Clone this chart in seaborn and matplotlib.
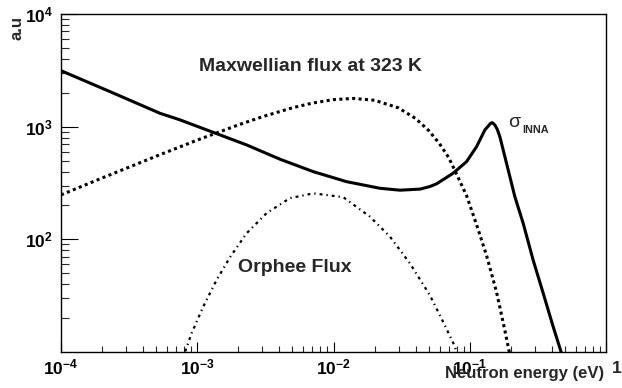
import numpy as np
import pandas as pd
import seaborn as sns
import matplotlib
matplotlib.use("Agg")
import matplotlib.pyplot as plt
from matplotlib.ticker import FixedLocator, FixedFormatter, NullFormatter

# ---------------- data ----------------
energy_sigma = [1.0e-4, 2.29e-4, 5.32e-4, 7.46e-4, 1.31e-3, 2.30e-3, 4.05e-3, 7.10e-3,
                0.01247, 0.02188, 0.0307, 0.0431, 0.0509, 0.0571, 0.0755, 0.0947,
                0.1122, 0.1291, 0.1365, 0.1422, 0.1465, 0.1529, 0.1590, 0.1663,
                0.1862, 0.2143, 0.2466, 0.2918, 0.3458, 0.4093, 0.4637, 0.5200]
sigma_inna = [3140, 2046, 1315, 1150, 890, 689, 514, 399,
              325, 284, 273, 279, 294, 311, 386, 489,
              664, 935, 1010, 1072, 1085, 1035, 950, 815,
              473, 239, 139, 65.6, 33.3, 16.8, 10.4, 6.5]

energy_maxw = [1e-4, 2e-4, 5e-4, 1e-3, 2e-3, 3e-3, 5e-3, 7e-3, 0.010, 0.014,
               0.020, 0.030, 0.040, 0.050, 0.060, 0.070, 0.0784, 0.0947, 0.1122,
               0.1328, 0.1573, 0.1807, 0.1950, 0.2050]
flux_maxw = [248, 350, 547, 760, 1036, 1224, 1471, 1620, 1738, 1781,
             1716, 1467, 1183, 924, 706, 533, 400, 245, 135,
             72, 34, 15.7, 10.0, 8.0]

energy_orphee = [7.6e-4, 8.13e-4, 9.1e-4, 1.107e-3, 1.387e-3, 1.738e-3, 2.30e-3, 3.23e-3,
                 4.79e-3, 7.10e-3, 0.01178, 0.0185, 0.0259, 0.0363, 0.0509, 0.0638,
                 0.0778, 0.0830]
flux_orphee = [8.0, 10.0, 14.7, 25.3, 43.6, 69.3, 113, 171,
               232, 256, 237, 159, 106, 61.4, 32.0, 18.5,
               11.2, 8.5]

x_major = [1e-4, 1e-3, 1e-2, 1e-1, 1.0]
x_major_labels = [r"$\mathbf{10^{-4}}$", r"$\mathbf{10^{-3}}$", r"$\mathbf{10^{-2}}$",
                  r"$\mathbf{10^{-1}}$", ""]
y_major = [1e2, 1e3, 1e4]
y_major_labels = [r"$\mathbf{10^{2}}$", r"$\mathbf{10^{3}}$", r"$\mathbf{10^{4}}$"]

# ---------------- style ----------------
sns.set_theme(style="white")
plt.rcParams["font.family"] = ["Liberation Sans", "DejaVu Sans"]
plt.rcParams["mathtext.fontset"] = "custom"
plt.rcParams["mathtext.rm"] = "Liberation Sans:bold"
plt.rcParams["mathtext.bf"] = "Liberation Sans:bold"
plt.rcParams["mathtext.it"] = "Liberation Sans:bold"

fig = plt.figure(figsize=(6.22, 3.88), dpi=100)
ax = fig.add_axes([61 / 622, 36 / 388, 545 / 622, 338 / 388])

df_s = pd.DataFrame({"E": energy_sigma, "v": sigma_inna})
df_m = pd.DataFrame({"E": energy_maxw, "v": flux_maxw})
df_o = pd.DataFrame({"E": energy_orphee, "v": flux_orphee})

sns.lineplot(data=df_s, x="E", y="v", ax=ax, color="black", lw=2.2,
             sort=False, estimator=None)
ax.lines[-1].set_solid_joinstyle("round")
sns.lineplot(data=df_m, x="E", y="v", ax=ax, color="black", lw=2.2,
             sort=False, estimator=None, dashes=False)
ax.lines[-1].set_linestyle((0, (1.0, 1.1)))
ax.lines[-1].set_dash_capstyle("butt")
sns.lineplot(data=df_o, x="E", y="v", ax=ax, color="black", lw=1.6,
             sort=False, estimator=None)
ax.lines[-1].set_linestyle((0, (1.3, 1.8, 0.6, 1.8)))

ax.set_xscale("log")
ax.set_yscale("log")
ax.set_xlim(1e-4, 1.0)
ax.set_ylim(10, 1e4)
ax.set_xlabel("")
ax.set_ylabel("")

ax.xaxis.set_major_locator(FixedLocator(x_major))
ax.xaxis.set_major_formatter(FixedFormatter(x_major_labels))
x_minor = [m * d for d in [1e-4, 1e-3, 1e-2, 1e-1] for m in range(2, 10)]
ax.xaxis.set_minor_locator(FixedLocator(x_minor))
ax.xaxis.set_minor_formatter(NullFormatter())
ax.yaxis.set_major_locator(FixedLocator(y_major))
ax.yaxis.set_major_formatter(FixedFormatter(y_major_labels))
y_minor = [m * d for d in [10, 100, 1000] for m in range(2, 10)]
ax.yaxis.set_minor_locator(FixedLocator(y_minor))
ax.yaxis.set_minor_formatter(NullFormatter())

ax.tick_params(axis="x", which="major", direction="in", length=7.2, width=0.8,
               labelsize=12.5, pad=4, bottom=True, top=False, colors="black")
ax.tick_params(axis="x", which="minor", direction="in", length=4.3, width=0.8,
               bottom=True, top=False)
ax.tick_params(axis="y", which="major", direction="in", length=12, width=0.8,
               labelsize=12.5, pad=6, left=True, right=False, colors="black")
ax.tick_params(axis="y", which="minor", direction="in", length=5.8, width=0.8,
               left=True, right=False)
for s in ax.spines.values():
    s.set_color("black")
    s.set_linewidth(1.0)
    s.set_visible(True)

# ---------------- texts ----------------
ax.text(0.457, 0.846, "Maxwellian flux at 323 K", transform=ax.transAxes,
        ha="center", va="center", fontsize=14, fontweight="bold")
ax.text(0.429, 0.251, "Orphee Flux", transform=ax.transAxes,
        ha="center", va="center", fontsize=14, fontweight="bold")
ax.text(0.820, 0.6666, "σ", transform=ax.transAxes, ha="left", va="baseline",
        fontsize=14)
ax.text(0.8460, 0.647, "INNA", transform=ax.transAxes, ha="left", va="baseline",
        fontsize=7.8, fontweight="bold")

fig.text(617 / 622, (388 - 373.3) / 388, "1", ha="center", va="baseline",
         fontsize=12.5, fontweight="bold")
fig.text(604 / 622, (388 - 378.3) / 388, "Neutron energy (eV)", ha="right",
         va="baseline", fontsize=12, fontweight="bold")
fig.text(17 / 622, (388 - 28) / 388, "a.u", rotation=90, ha="center", va="center",
         fontsize=12, fontweight="bold")

fig.savefig("out.png", dpi=100, facecolor="white")
